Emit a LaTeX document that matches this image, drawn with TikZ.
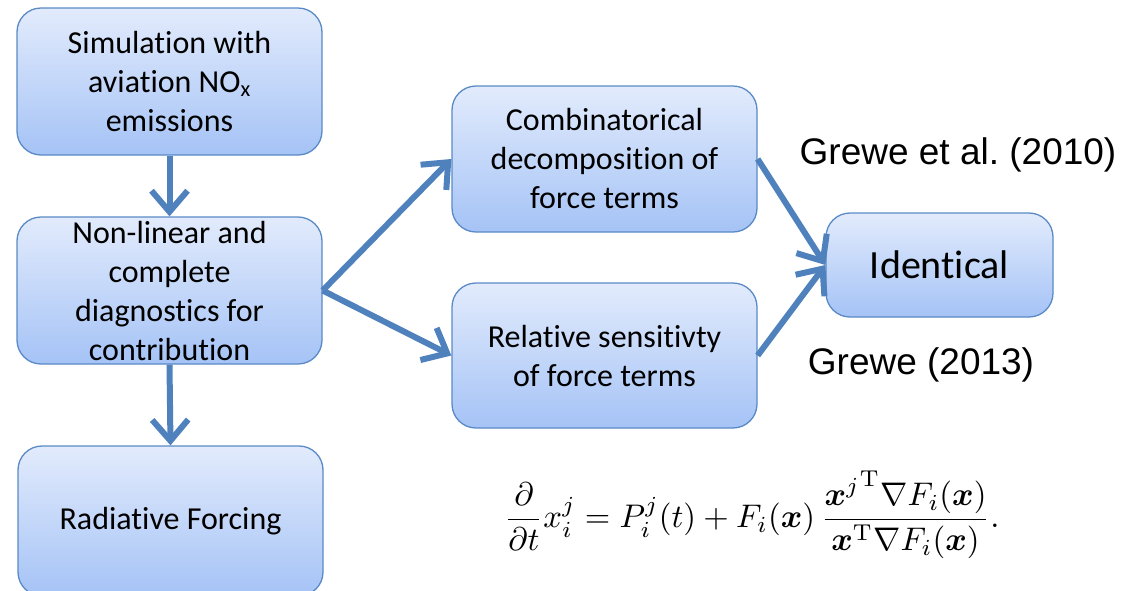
\documentclass[tikz,border=0pt]{standalone}
\usepackage{amsmath}
\usepackage{graphicx}
\usepackage{fontspec}
\newfontfamily\boxfont[RawFeature={-liga;-clig;-calt;-dlig}]{Carlito}
\newfontfamily\labfont{Liberation Sans}
\usetikzlibrary{arrows.meta,positioning}
\definecolor{boxtop}{HTML}{E2EBFC}
\definecolor{boxbot}{HTML}{A5C3F6}
\definecolor{boxline}{HTML}{5A8AC6}
\definecolor{arrowc}{HTML}{4F81BD}
\frenchspacing
\tikzset{
  flowbox/.style={draw=boxline, line width=1.3pt, rounded corners=24pt,
    top color=boxtop, bottom color=boxbot, minimum width=305pt,
    align=center, font=\boxfont\fontsize{32}{39}\selectfont, inner sep=0pt},
  flowarrow/.style={draw=arrowc, line width=6pt,
    -{Straight Barb[length=21pt,width=36pt,line width=6pt]}},
  citelab/.style={font=\labfont\fontsize{37}{44}\selectfont, inner sep=0pt}
}
\begin{document}
\begin{tikzpicture}[x=1pt,y=-1pt]
\useasboundingbox (0,0) rectangle (1122,590);
\node[flowbox, minimum height=147pt] (sim) at (169.5,81.5) {Simulation with\\aviation NO\textsubscript{x}\\emissions};
\node[flowbox, minimum height=147pt] (diag) at (169.5,290.5) {Non-linear and\\complete\\diagnostics for\\contribution};
\node[flowbox, minimum height=150pt] (rf) at (170.5,521) {Radiative Forcing};
\node[flowbox, minimum height=146pt] (comb) at (604.5,159) {Combinatorical\\decomposition of\\force terms};
\node[flowbox, minimum height=145pt] (rel) at (604.5,355.5) {Relative sensitivty\\of force terms};
\node[flowbox, minimum width=227pt, minimum height=104pt, font=\boxfont\fontsize{40}{48}\selectfont] (ident) at (939.5,265) {Identical};
\node[citelab] (g10) at (958,155) {Grewe et al. (2010)};
\node[citelab] (g13) at (921,365) {Grewe (2013)};
\node[inner sep=0pt] (eq) at (752,515)
  {\resizebox{495pt}{!}{$\displaystyle \frac{\partial}{\partial t} x_i^{j} = P_i^{j}(t) + F_i(\boldsymbol{x})\,
   \frac{{\boldsymbol{x}^{j}}^{\mathrm{T}}\nabla F_i(\boldsymbol{x})}{\boldsymbol{x}^{\mathrm{T}}\nabla F_i(\boldsymbol{x})}.$}};
\draw[flowarrow] (sim.south) -- (diag.north);
\draw[flowarrow] (diag.south) -- (rf.north);
\draw[flowarrow] (diag.east) -- (comb.west);
\draw[flowarrow] (diag.east) -- (rel.west);
\draw[flowarrow] (comb.east) -- (ident.west);
\draw[flowarrow] (rel.east) -- (ident.west);
\end{tikzpicture}
\end{document}
